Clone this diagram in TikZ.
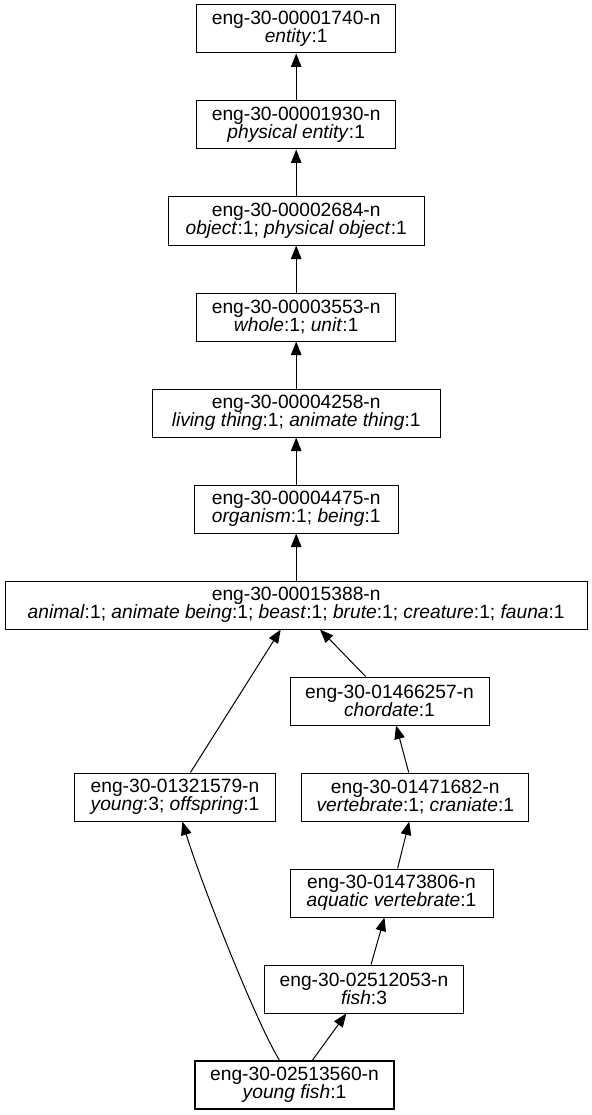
\documentclass[tikz,border=0pt]{standalone}
\usepackage{fontspec}
\setmainfont{Liberation Sans}
\usetikzlibrary{arrows.meta}
\begin{document}
\begin{tikzpicture}[x=1pt,y=-1pt,
  syn/.style={draw, line width=1pt, minimum height=48pt, inner sep=0pt, align=center,
    font=\fontsize{19.2}{18.4}\selectfont},
  thickbox/.style={line width=2pt},
  arr/.style={-{Triangle[length=13.5pt,width=10.5pt]}, line width=1pt}]
\useasboundingbox (0,0) rectangle (591,1115);
\node[syn, minimum width=198.5pt] (entity) at (296.2,29) {eng-30-00001740-n\\\textit{entity}:1};
\node[syn, minimum width=198.5pt] (phys) at (296.2,125) {eng-30-00001930-n\\\textit{physical entity}:1};
\node[syn, minimum width=255.6pt] (object) at (296.2,221) {eng-30-00002684-n\\\textit{object}:1; \textit{physical object}:1};
\node[syn, minimum width=198.8pt] (whole) at (296.2,317) {eng-30-00003553-n\\\textit{whole}:1; \textit{unit}:1};
\node[syn, minimum width=288pt] (living) at (296.2,413) {eng-30-00004258-n\\\textit{living thing}:1; \textit{animate thing}:1};
\node[syn, minimum width=204pt] (organism) at (296.2,509) {eng-30-00004475-n\\\textit{organism}:1; \textit{being}:1};
\node[syn, minimum width=582pt] (animal) at (296.2,605) {eng-30-00015388-n\\\textit{animal}:1; \textit{animate being}:1; \textit{beast}:1; \textit{brute}:1; \textit{creature}:1; \textit{fauna}:1};
\node[syn, minimum width=199pt] (chordate) at (389.5,701) {eng-30-01466257-n\\\textit{chordate}:1};
\node[syn, minimum width=201pt] (young) at (175,797) {eng-30-01321579-n\\\textit{young}:3; \textit{offspring}:1};
\node[syn, minimum width=227pt] (vert) at (415.3,797) {eng-30-01471682-n\\\textit{vertebrate}:1; \textit{craniate}:1};
\node[syn, minimum width=203pt] (aquatic) at (391.5,893) {eng-30-01473806-n\\\textit{aquatic vertebrate}:1};
\node[syn, minimum width=198.5pt] (fish) at (364,989) {eng-30-02512053-n\\\textit{fish}:3};
\node[syn, thickbox, minimum width=199pt] (yfish) at (294.5,1085) {eng-30-02513560-n\\\textit{young fish}:1};

\draw[arr] (phys) -- (entity);
\draw[arr] (object) -- (phys);
\draw[arr] (whole) -- (object);
\draw[arr] (living) -- (whole);
\draw[arr] (organism) -- (living);
\draw[arr] (animal) -- (organism);
\draw[arr] (young) -- (animal);
\draw[arr] (chordate) -- (animal);
\draw[arr] (vert) -- (chordate);
\draw[arr] (aquatic) -- (vert);
\draw[arr] (fish) -- (aquatic);
\draw[arr] (yfish) -- (fish);
\draw[arr] (yfish) .. controls (255,1020) and (200,880) .. (young);
\end{tikzpicture}
\end{document}
